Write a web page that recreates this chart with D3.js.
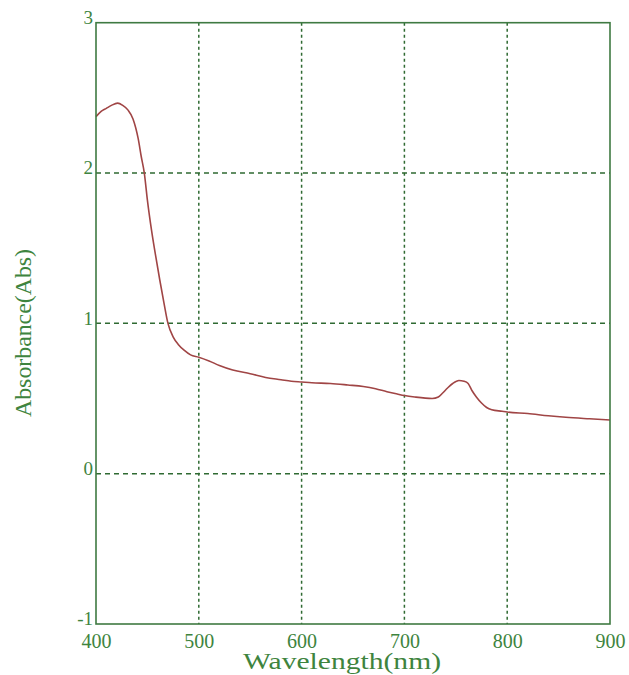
<!DOCTYPE html>
<html>
<head>
<meta charset="utf-8">
<script src="https://cdn.jsdelivr.net/npm/d3@7"></script>
<style>
  html, body { margin: 0; padding: 0; background: #ffffff; }
  svg { display: block; }
  text { font-family: "Liberation Serif", "Times New Roman", serif; }
</style>
</head>
<body>
<svg id="chart" width="629" height="675"></svg>
<script>
// Absorption spectrum: wavelength (nm) vs absorbance (Abs)
const wavelengths = [400, 405, 410, 415, 421, 426, 431, 436, 441, 444, 447, 450, 454, 458, 462, 466, 470, 475, 480, 486, 492, 500, 510, 520, 533, 550, 565, 580, 590, 600, 610, 628, 645, 660, 672, 683, 693, 700, 710, 727, 733, 737, 742, 747, 753, 758, 762, 766, 770, 775, 780, 785, 795, 800, 820, 840, 857, 880, 900];
const absorbance = [2.375, 2.41, 2.43, 2.45, 2.465, 2.45, 2.42, 2.36, 2.23, 2.11, 2.0, 1.82, 1.62, 1.45, 1.29, 1.14, 1.0, 0.91, 0.86, 0.82, 0.79, 0.775, 0.75, 0.72, 0.69, 0.665, 0.64, 0.625, 0.615, 0.61, 0.605, 0.60, 0.59, 0.58, 0.565, 0.545, 0.53, 0.52, 0.51, 0.50, 0.51, 0.535, 0.57, 0.60, 0.62, 0.615, 0.60, 0.55, 0.51, 0.47, 0.44, 0.425, 0.415, 0.41, 0.40, 0.385, 0.375, 0.365, 0.357];
const xTicks = [400, 500, 600, 700, 800, 900];
const yTicks = [-1, 0, 1, 2, 3];

const plotLeft = 96, plotRight = 610, plotTop = 22.7, plotBottom = 624;
const textColor = "#3e843e";
const frameColor = "#3f7a42";
const gridColor = "#2f6a32";
const lineColor = "#a04545";

const svg = d3.select("#chart");
const x = d3.scaleLinear().domain([400, 900]).range([plotLeft, plotRight]);
const y = d3.scaleLinear().domain([-1, 3]).range([plotBottom, plotTop]);

// Grid: dotted verticals, dashed horizontals (interior only)
svg.append("g")
  .selectAll("line")
  .data(xTicks.slice(1, -1))
  .join("line")
  .attr("x1", d => x(d)).attr("x2", d => x(d))
  .attr("y1", plotTop).attr("y2", plotBottom)
  .attr("stroke", gridColor).attr("stroke-width", 1.5)
  .attr("stroke-dasharray", "3,3");

svg.append("g")
  .selectAll("line")
  .data(yTicks.slice(1, -1))
  .join("line")
  .attr("x1", plotLeft).attr("x2", plotRight)
  .attr("y1", d => y(d)).attr("y2", d => y(d))
  .attr("stroke", gridColor).attr("stroke-width", 1.5)
  .attr("stroke-dasharray", "5,4");

// Spectrum curve
const line = d3.line()
  .x((d, i) => x(wavelengths[i]))
  .y(d => y(d))
  .curve(d3.curveMonotoneX);

svg.append("path")
  .datum(absorbance)
  .attr("d", line)
  .attr("fill", "none")
  .attr("stroke", lineColor)
  .attr("stroke-width", 1.6);

// Plot frame
svg.append("rect")
  .attr("x", plotLeft).attr("y", plotTop)
  .attr("width", plotRight - plotLeft).attr("height", plotBottom - plotTop)
  .attr("fill", "none")
  .attr("stroke", frameColor)
  .attr("stroke-width", 1.6);

// Axes (labels only)
const xAxis = svg.append("g")
  .attr("transform", `translate(0,${plotBottom})`)
  .call(d3.axisBottom(x).tickValues(xTicks).tickSize(0).tickPadding(10).tickFormat(d => String(d)));
xAxis.select(".domain").remove();
xAxis.selectAll("text")
  .attr("fill", textColor)
  .attr("font-size", 20)
  .attr("font-family", "Liberation Serif, serif");

const yAxis = svg.append("g")
  .attr("transform", `translate(${plotLeft},0)`)
  .call(d3.axisLeft(y).tickValues(yTicks).tickSize(0).tickPadding(3).tickFormat(d => String(d)));
yAxis.select(".domain").remove();
yAxis.selectAll("text")
  .attr("dy", "0.05em")
  .attr("fill", textColor)
  .attr("font-size", 19)
  .attr("font-family", "Liberation Serif, serif");

// Axis titles
svg.append("text")
  .attr("x", 342).attr("y", 669)
  .attr("text-anchor", "middle")
  .attr("fill", textColor)
  .attr("font-size", 23)
  .attr("textLength", 198)
  .attr("lengthAdjust", "spacingAndGlyphs")
  .text("Wavelength(nm)");

svg.append("text")
  .attr("transform", "translate(31,333) rotate(-90)")
  .attr("text-anchor", "middle")
  .attr("fill", textColor)
  .attr("font-size", 23)
  .attr("textLength", 168)
  .attr("lengthAdjust", "spacingAndGlyphs")
  .text("Absorbance(Abs)");
</script>
</body>
</html>
